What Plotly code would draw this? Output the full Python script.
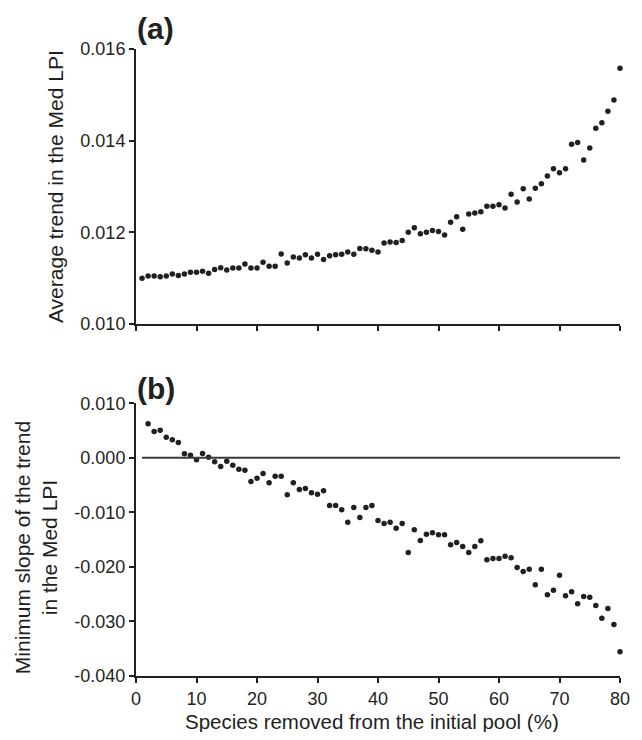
import plotly.graph_objects as go

# ---------------- data ----------------
x_a = list(range(1, 81))
trend_a = [
    0.01100, 0.01105, 0.01105, 0.01103, 0.01105, 0.01109, 0.01106, 0.01109, 0.01113, 0.01113,
    0.01115, 0.01111, 0.01119, 0.01123, 0.01118, 0.01122, 0.01122, 0.01131, 0.01122, 0.01122,
    0.01135, 0.01126, 0.01126, 0.01153, 0.01133, 0.01146, 0.01144, 0.01151, 0.01144, 0.01152,
    0.01141, 0.01149, 0.01151, 0.01152, 0.01157, 0.01152, 0.01165, 0.01164, 0.01161, 0.01157,
    0.01177, 0.01179, 0.01178, 0.01182, 0.01200, 0.01210, 0.01197, 0.01200, 0.01204, 0.01202,
    0.01194, 0.01222, 0.01234, 0.01207, 0.01240, 0.01242, 0.01245, 0.01257, 0.01257, 0.01260,
    0.01253, 0.01283, 0.01266, 0.01295, 0.01273, 0.01296, 0.01306, 0.01323, 0.01339, 0.01330,
    0.01339, 0.01392, 0.01396, 0.01358, 0.01384, 0.01427, 0.01439, 0.01464, 0.01489, 0.01558,
]

x_b = list(range(2, 81))
slope_b = [
    0.00623, 0.00482, 0.00506, 0.00378, 0.00330, 0.00281, 0.00073, 0.00048, -0.00037,
    0.00079, 0.00011, -0.00073, -0.00160, -0.00062, -0.00136, -0.00209, -0.00227, -0.00435, -0.00374,
    -0.00288, -0.00458, -0.00337, -0.00337, -0.00678, -0.00456, -0.00581, -0.00563, -0.00642, -0.00667,
    -0.00605, -0.00875, -0.00875, -0.00954, -0.01181, -0.00911, -0.01095, -0.00911, -0.00875, -0.01150,
    -0.01205, -0.01181, -0.01291, -0.01205, -0.01736, -0.01320, -0.01516, -0.01401, -0.01376, -0.01412,
    -0.01412, -0.01595, -0.01553, -0.01626, -0.01736, -0.01626, -0.01522, -0.01870, -0.01846, -0.01846,
    -0.01804, -0.01834, -0.02011, -0.02085, -0.02042, -0.02329, -0.02042, -0.02512, -0.02427, -0.02152,
    -0.02530, -0.02457, -0.02677, -0.02543, -0.02555, -0.02708, -0.02941, -0.02763, -0.03056, -0.03557,
]

x_ticks = [0, 10, 20, 30, 40, 50, 60, 70, 80]
y_ticks_a = [0.010, 0.012, 0.014, 0.016]
y_ticks_b = [-0.040, -0.030, -0.020, -0.010, 0.000, 0.010]
zero_line_x = [1, 80]

ink = "#231f20"
font_family = "Liberation Sans, Arial, sans-serif"

fig = go.Figure()
fig.add_trace(go.Scatter(x=x_a, y=trend_a, mode="markers", xaxis="x", yaxis="y",
                         marker=dict(size=5.5, color=ink), cliponaxis=False, showlegend=False))
fig.add_trace(go.Scatter(x=x_b, y=slope_b, mode="markers", xaxis="x2", yaxis="y2",
                         marker=dict(size=5.5, color=ink), cliponaxis=False, showlegend=False))

fig.add_shape(type="line", xref="x2", yref="y2", x0=zero_line_x[0], x1=zero_line_x[1],
              y0=0, y1=0, line=dict(color="#3a3a3a", width=2))

axis_common = dict(showline=True, linecolor=ink, linewidth=2, ticks="outside",
                   ticklen=5, tickwidth=1.5, tickcolor=ink, showgrid=False, zeroline=False,
                   tickfont=dict(family=font_family, size=18, color=ink))

# the page body has an 8px margin, so the figure is 8px smaller and shifted
fig.update_layout(
    width=634, height=724,
    margin=dict(l=128, r=19, t=41, b=56),
    paper_bgcolor="white", plot_bgcolor="white",
    font=dict(family=font_family, color=ink),
    xaxis=dict(domain=[0, 1], range=[0, 80], anchor="y", tickvals=x_ticks,
               showticklabels=False, **axis_common),
    yaxis=dict(domain=[0.5614, 1], range=[0.010, 0.016], anchor="x",
               tickvals=y_ticks_a, ticktext=[f"{v:.3f}" for v in y_ticks_a], **axis_common),
    xaxis2=dict(domain=[0, 1], range=[0, 80], anchor="y2", tickvals=x_ticks,
                ticktext=[str(v) for v in x_ticks], **axis_common),
    yaxis2=dict(domain=[0, 0.435], range=[-0.040, 0.010], anchor="x2",
                tickvals=y_ticks_b, ticktext=[f"{v:.3f}" for v in y_ticks_b], **axis_common),
    annotations=[
        dict(text="<b>(a)</b>", x=-0.002, y=1.0319, xref="paper", yref="paper",
             xanchor="left", yanchor="middle", showarrow=False,
             font=dict(size=30, family=font_family, color=ink)),
        dict(text="<b>(b)</b>", x=-0.002, y=0.459, xref="paper", yref="paper",
             xanchor="left", yanchor="middle", showarrow=False,
             font=dict(size=30, family=font_family, color=ink)),
        dict(text="Average trend in the Med LPI", x=-0.1663, y=0.7807, xref="paper", yref="paper",
             xanchor="center", yanchor="middle", textangle=-90, showarrow=False,
             font=dict(size=21, family=font_family, color=ink)),
        dict(text="Minimum slope of the trend<br>in the Med LPI", x=-0.2064, y=0.204,
             xref="paper", yref="paper", xanchor="center", yanchor="middle", textangle=-90,
             showarrow=False, font=dict(size=21, family=font_family, color=ink)),
        dict(text="Species removed from the initial pool (%)", x=0.487, y=-0.0718,
             xref="paper", yref="paper", xanchor="center", yanchor="middle", showarrow=False,
             borderpad=0, font=dict(size=20.5, family=font_family, color=ink)),
    ],
)

fig.write_html("out.html")
